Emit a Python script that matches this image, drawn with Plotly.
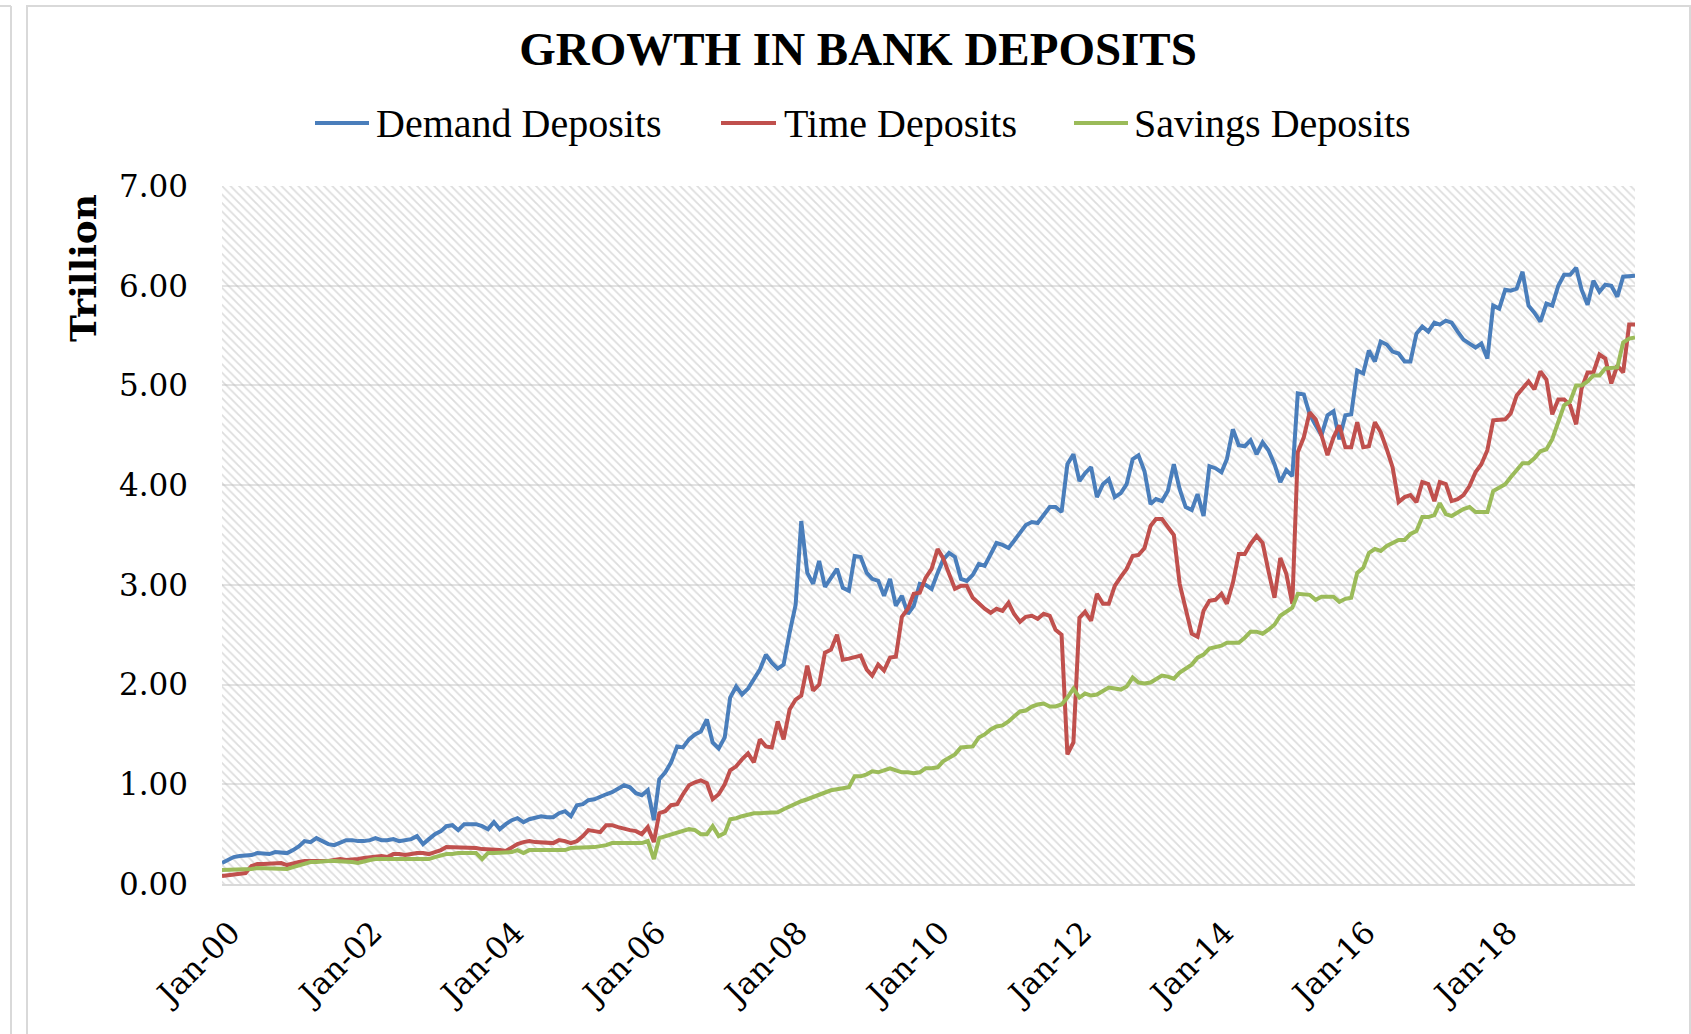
import pandas as pd
import plotly.graph_objects as go

# Monthly observations, Jan-2000 .. Dec-2019 (trillion)
months = pd.date_range("2000-01-01", "2019-12-01", freq="MS")

demand_deposits = [
    0.21, 0.24, 0.27, 0.28, 0.28, 0.29, 0.31, 0.30, 0.30, 0.32, 0.32, 0.31,
    0.34, 0.38, 0.43, 0.42, 0.46, 0.43, 0.40, 0.39, 0.42, 0.44, 0.44, 0.43,
    0.43, 0.44, 0.46, 0.44, 0.44, 0.45, 0.43, 0.44, 0.45, 0.48, 0.40, 0.45,
    0.50, 0.53, 0.58, 0.59, 0.54, 0.60, 0.60, 0.60, 0.58, 0.55, 0.62, 0.55,
    0.60, 0.64, 0.66, 0.62, 0.65, 0.67, 0.68, 0.67, 0.67, 0.71, 0.73, 0.68,
    0.79, 0.80, 0.84, 0.85, 0.88, 0.90, 0.92, 0.96, 0.99, 0.97, 0.91, 0.89,
    0.94, 0.64, 1.05, 1.12, 1.22, 1.38, 1.37, 1.45, 1.50, 1.53, 1.65, 1.42,
    1.36, 1.47, 1.87, 1.98, 1.90, 1.96, 2.06, 2.15, 2.30, 2.22, 2.16, 2.20,
    2.52, 2.80, 3.64, 3.12, 3.01, 3.24, 2.98, 3.07, 3.16, 2.97, 2.94, 3.29,
    3.28, 3.12, 3.06, 3.04, 2.89, 3.06, 2.79, 2.89, 2.71, 2.79, 3.01, 3.00,
    2.96, 3.12, 3.25, 3.32, 3.28, 3.06, 3.04, 3.10, 3.21, 3.19, 3.30, 3.42,
    3.40, 3.37, 3.44, 3.52, 3.60, 3.63, 3.62, 3.70, 3.78, 3.78, 3.73, 4.21,
    4.31, 4.04, 4.12, 4.18, 3.88, 4.01, 4.06, 3.88, 3.92, 4.01, 4.26, 4.30,
    4.14, 3.81, 3.86, 3.84, 3.94, 4.21, 3.96, 3.78, 3.75, 3.91, 3.69, 4.19,
    4.17, 4.13, 4.26, 4.56, 4.40, 4.39, 4.45, 4.31, 4.43, 4.35, 4.21, 4.03,
    4.15, 4.09, 4.92, 4.91, 4.71, 4.60, 4.50, 4.70, 4.74, 4.46, 4.70, 4.71,
    5.15, 5.12, 5.35, 5.24, 5.44, 5.41, 5.34, 5.32, 5.24, 5.24, 5.52, 5.59,
    5.54, 5.63, 5.61, 5.65, 5.63, 5.54, 5.46, 5.42, 5.38, 5.42, 5.27, 5.80,
    5.77, 5.96, 5.95, 5.97, 6.14, 5.80, 5.73, 5.64, 5.82, 5.80, 6.00, 6.11,
    6.11, 6.18, 5.96, 5.81, 6.05, 5.94, 6.01, 6.00, 5.89, 6.09, 6.10, 6.10,
]

time_deposits = [
    0.08, 0.09, 0.10, 0.10, 0.11, 0.18, 0.20, 0.20, 0.20, 0.21, 0.21, 0.19,
    0.21, 0.22, 0.23, 0.23, 0.23, 0.22, 0.23, 0.24, 0.25, 0.24, 0.24, 0.25,
    0.26, 0.27, 0.28, 0.28, 0.27, 0.30, 0.30, 0.29, 0.30, 0.31, 0.31, 0.30,
    0.32, 0.34, 0.37, 0.37, 0.36, 0.36, 0.37, 0.36, 0.35, 0.35, 0.35, 0.34,
    0.33, 0.37, 0.40, 0.42, 0.43, 0.42, 0.42, 0.41, 0.41, 0.44, 0.43, 0.41,
    0.43, 0.48, 0.54, 0.53, 0.52, 0.59, 0.59, 0.57, 0.55, 0.54, 0.53, 0.50,
    0.57, 0.42, 0.71, 0.73, 0.79, 0.80, 0.90, 0.99, 1.02, 1.04, 1.01, 0.85,
    0.90, 1.00, 1.14, 1.18, 1.25, 1.31, 1.22, 1.45, 1.38, 1.37, 1.63, 1.45,
    1.75, 1.85, 1.89, 2.19, 1.94, 2.00, 2.32, 2.35, 2.50, 2.25, 2.26, 2.27,
    2.29, 2.15, 2.09, 2.20, 2.14, 2.27, 2.28, 2.68, 2.76, 2.91, 2.92, 3.07,
    3.16, 3.36, 3.27, 3.11, 2.96, 2.99, 2.99, 2.87, 2.81, 2.76, 2.72, 2.76,
    2.74, 2.82, 2.71, 2.63, 2.68, 2.69, 2.66, 2.71, 2.69, 2.55, 2.50, 1.30,
    1.42, 2.67, 2.73, 2.64, 2.91, 2.81, 2.81, 2.99, 3.08, 3.16, 3.29, 3.30,
    3.37, 3.59, 3.66, 3.66, 3.58, 3.50, 3.01, 2.76, 2.51, 2.48, 2.74, 2.84,
    2.85, 2.91, 2.81, 3.02, 3.31, 3.31, 3.41, 3.49, 3.42, 3.14, 2.87, 3.27,
    3.11, 2.81, 4.33, 4.48, 4.73, 4.66, 4.50, 4.30, 4.48, 4.60, 4.38, 4.38,
    4.63, 4.38, 4.39, 4.63, 4.53, 4.36, 4.18, 3.83, 3.88, 3.90, 3.83, 4.03,
    4.01, 3.84, 4.03, 4.01, 3.84, 3.86, 3.90, 3.99, 4.13, 4.21, 4.35, 4.65,
    4.66, 4.66, 4.72, 4.90, 4.97, 5.04, 4.96, 5.14, 5.06, 4.71, 4.86, 4.86,
    4.80, 4.61, 4.97, 5.13, 5.13, 5.31, 5.27, 5.02, 5.20, 5.13, 5.61, 5.61,
]

savings_deposits = [
    0.14, 0.14, 0.14, 0.14, 0.14, 0.15, 0.16, 0.16, 0.16, 0.16, 0.16, 0.15,
    0.17, 0.19, 0.21, 0.22, 0.22, 0.23, 0.23, 0.23, 0.23, 0.23, 0.22, 0.21,
    0.23, 0.24, 0.25, 0.25, 0.25, 0.25, 0.25, 0.26, 0.26, 0.26, 0.25, 0.25,
    0.27, 0.29, 0.30, 0.30, 0.31, 0.31, 0.31, 0.31, 0.25, 0.31, 0.31, 0.31,
    0.31, 0.32, 0.34, 0.31, 0.34, 0.34, 0.34, 0.34, 0.34, 0.33, 0.34, 0.36,
    0.36, 0.36, 0.37, 0.37, 0.38, 0.39, 0.41, 0.41, 0.41, 0.42, 0.41, 0.41,
    0.43, 0.25, 0.46, 0.48, 0.49, 0.51, 0.53, 0.55, 0.54, 0.50, 0.50, 0.58,
    0.48, 0.51, 0.65, 0.66, 0.68, 0.70, 0.71, 0.71, 0.71, 0.72, 0.72, 0.75,
    0.78, 0.81, 0.83, 0.85, 0.87, 0.89, 0.92, 0.94, 0.95, 0.96, 0.97, 1.08,
    1.08, 1.10, 1.13, 1.12, 1.14, 1.16, 1.14, 1.12, 1.12, 1.11, 1.12, 1.16,
    1.16, 1.17, 1.23, 1.27, 1.30, 1.37, 1.37, 1.38, 1.47, 1.50, 1.55, 1.58,
    1.59, 1.63, 1.68, 1.73, 1.74, 1.78, 1.80, 1.81, 1.78, 1.78, 1.80, 1.87,
    1.96, 1.87, 1.91, 1.89, 1.90, 1.94, 1.97, 1.96, 1.95, 1.98, 2.07, 2.02,
    2.01, 2.02, 2.05, 2.09, 2.08, 2.06, 2.12, 2.16, 2.20, 2.27, 2.30, 2.36,
    2.37, 2.39, 2.42, 2.42, 2.42, 2.47, 2.53, 2.53, 2.51, 2.55, 2.60, 2.69,
    2.73, 2.77, 2.91, 2.90, 2.90, 2.85, 2.88, 2.88, 2.88, 2.83, 2.86, 2.87,
    3.12, 3.17, 3.32, 3.36, 3.34, 3.39, 3.42, 3.45, 3.45, 3.51, 3.54, 3.68,
    3.68, 3.70, 3.82, 3.71, 3.69, 3.73, 3.76, 3.78, 3.73, 3.73, 3.73, 3.94,
    3.97, 4.01, 4.08, 4.15, 4.22, 4.22, 4.27, 4.34, 4.36, 4.46, 4.62, 4.80,
    4.84, 5.00, 5.00, 5.04, 5.10, 5.10, 5.17, 5.18, 5.18, 5.43, 5.47, 5.48,
]

series_names = ["Demand Deposits", "Time Deposits", "Savings Deposits"]
series_colors = ["#4A7EBB", "#C0504D", "#9BBB59"]
series_values = [demand_deposits, time_deposits, savings_deposits]

y_range = [0, 7]

# Page and plot-area geometry (pixels)
W, H = 1691, 1034
PL, PR, PT, PB = 222, 1635, 186, 884


def pxx(px):
    return (px - PL) / (PR - PL)


def pxy(py):
    return (PB - py) / (PB - PT)


fig = go.Figure()

# Hatched plot-area background
fig.add_trace(go.Scatter(
    x=[months[0], months[-1], months[-1], months[0], months[0]],
    y=[y_range[0], y_range[0], y_range[1], y_range[1], y_range[0]],
    mode="lines", line=dict(width=0), fill="toself",
    fillcolor="rgba(0,0,0,0)",
    fillpattern=dict(shape="\\", fgcolor="#bcbcbc", bgcolor="rgba(0,0,0,0)",
                     size=6, solidity=0.3, fillmode="overlay"),
    hoverinfo="skip", showlegend=False,
))

for name, color, vals in zip(series_names, series_colors, series_values):
    fig.add_trace(go.Scatter(
        x=months, y=vals, name=name, mode="lines",
        line=dict(color=color, width=4),
        showlegend=False,
    ))

shapes = []
annotations = []

# Legend drawn across the top
legend_items = [(315, 369, 374), (721, 776, 782), (1074, 1128, 1132)]
legend_y = 123
for (x0, x1, xt), name, color in zip(legend_items, series_names, series_colors):
    shapes.append(dict(type="line", xref="paper", yref="paper",
                       x0=pxx(x0), x1=pxx(x1), y0=pxy(legend_y), y1=pxy(legend_y),
                       line=dict(color=color, width=4)))
    annotations.append(dict(text=name, xref="paper", yref="paper",
                            x=pxx(xt), y=pxy(legend_y), xanchor="left", yanchor="middle",
                            showarrow=False,
                            font=dict(family="Liberation Serif", size=40, color="#000")))

# Axis title
annotations.append(dict(text="<b>Trillion</b>", xref="paper", yref="paper",
                        x=pxx(83), y=pxy(268), textangle=-90, showarrow=False,
                        xanchor="center", yanchor="middle",
                        font=dict(family="DejaVu Serif", size=36, color="#000")))

# Chart frame
frame_color = "#d9d9d9"
shapes += [
    dict(type="rect", xref="paper", yref="paper",
         x0=pxx(27), x1=pxx(1690), y0=pxy(6), y1=pxy(1040),
         line=dict(color=frame_color, width=2), fillcolor="rgba(0,0,0,0)", layer="below"),
    dict(type="line", xref="paper", yref="paper",
         x0=pxx(11), x1=pxx(11), y0=pxy(6), y1=pxy(1040),
         line=dict(color=frame_color, width=2)),
    dict(type="line", xref="paper", yref="paper",
         x0=pxx(-2), x1=pxx(11), y0=pxy(6), y1=pxy(6),
         line=dict(color=frame_color, width=2)),
]

tick_font = dict(family="DejaVu Serif", size=31, color="#000")

fig.update_layout(
    width=W, height=H,
    margin=dict(l=PL, r=W - PR, t=PT, b=H - PB, pad=0),
    paper_bgcolor="white", plot_bgcolor="white",
    title=dict(text="<b>GROWTH IN BANK DEPOSITS</b>", x=858 / W, xanchor="center",
               y=1 - 49 / H, yanchor="middle", xref="container", yref="container",
               font=dict(family="Liberation Serif", size=47, color="#000")),
    shapes=shapes, annotations=annotations,
    xaxis=dict(type="date", range=[months[0], months[-1]],
               tick0="2000-01-01", dtick="M24", tickformat="%b-%y",
               tickangle=-45, tickfont=tick_font, ticks="",
               showgrid=False, showline=True, linecolor="#d9d9d9", linewidth=2,
               zeroline=False, ticklabelstandoff=16, ticklabelshift=9),
    yaxis=dict(range=y_range, dtick=1, tickformat=".2f", tickfont=tick_font,
               ticks="", showgrid=True, gridcolor="#e3e3e3", gridwidth=2,
               zeroline=False, showline=False, ticklabelstandoff=33),
    showlegend=False,
)

fig.write_html("out.html")
